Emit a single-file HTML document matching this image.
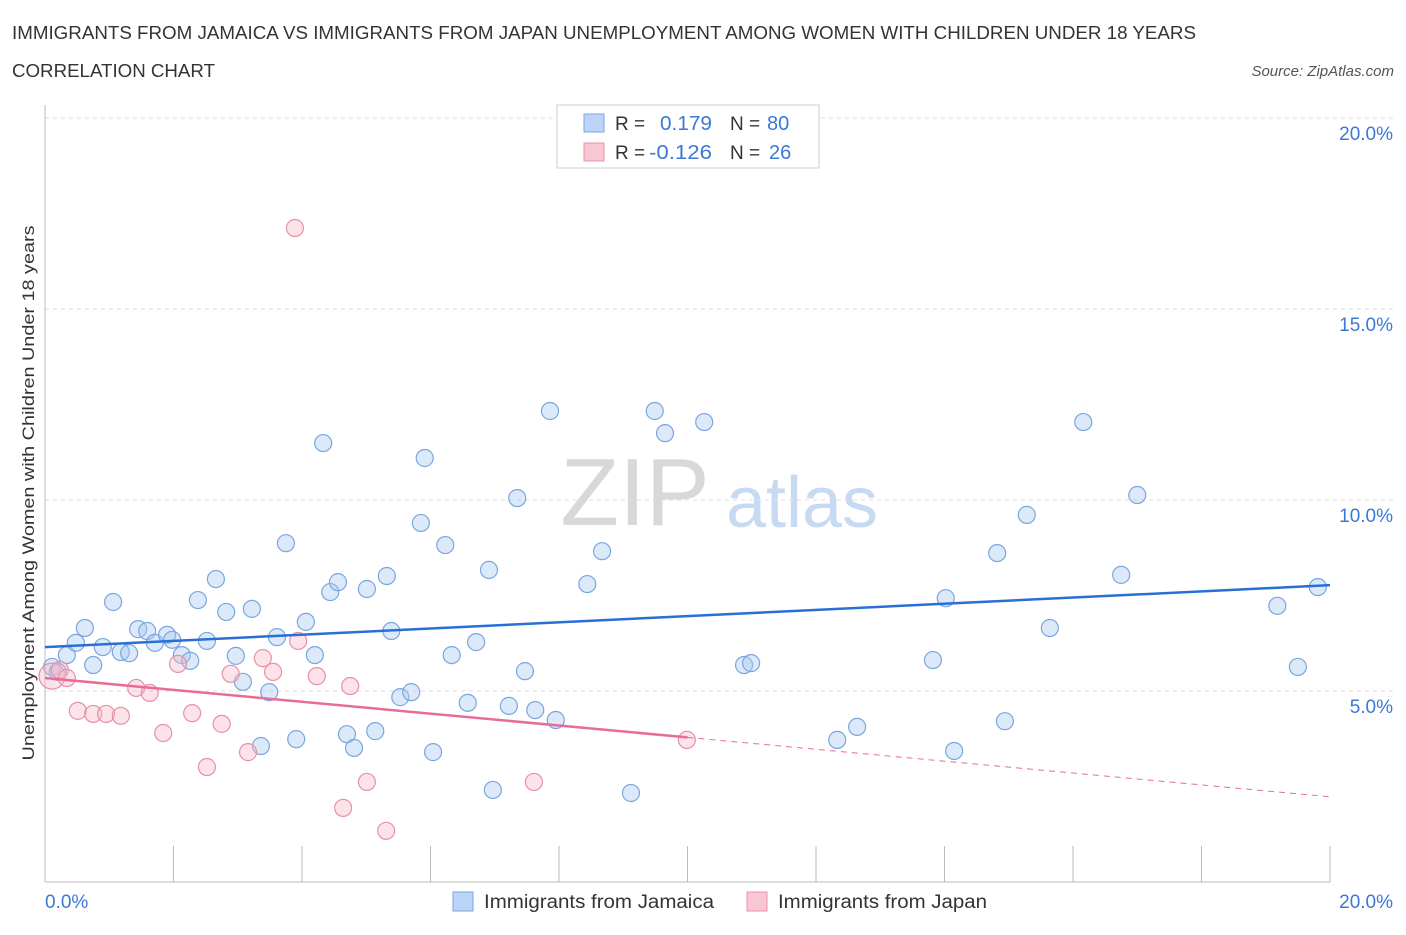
<!DOCTYPE html>
<html><head><meta charset="utf-8"><style>
body{margin:0;background:#fff;font-family:"Liberation Sans",sans-serif;}
svg text{font-family:"Liberation Sans",sans-serif;}
</style></head><body>
<svg id="chart" width="1406" height="930" xmlns="http://www.w3.org/2000/svg">
<text x="12" y="39" font-size="18" fill="#333" textLength="1184" lengthAdjust="spacingAndGlyphs">IMMIGRANTS FROM JAMAICA VS IMMIGRANTS FROM JAPAN UNEMPLOYMENT AMONG WOMEN WITH CHILDREN UNDER 18 YEARS</text>
<text x="12" y="77" font-size="18" fill="#333" textLength="203" lengthAdjust="spacingAndGlyphs">CORRELATION CHART</text>
<text x="1394" y="76" font-size="15" fill="#555" font-style="italic" text-anchor="end">Source: ZipAtlas.com</text>
<g>
<text x="635" y="525" font-size="96" fill="#d8d8d8" font-family="Liberation Serif,serif" text-anchor="middle">ZIP</text>
<text x="802" y="527" font-size="72" fill="#c8daf2" text-anchor="middle">atlas</text>
</g>
<g id="grid"></g>
<g id="axes"></g>
<g id="marks"></g>
<text transform="translate(34,493) rotate(-90)" font-size="17" fill="#333" text-anchor="middle" textLength="535" lengthAdjust="spacingAndGlyphs">Unemployment Among Women with Children Under 18 years</text>
<g>
<rect x="557" y="105" width="262" height="63" fill="#fff" stroke="#ccc"/>
<rect x="584" y="114" width="20" height="18" fill="#bcd4f6" stroke="#7aa6e0"/>
<rect x="584" y="143" width="20" height="18" fill="#f9c6d4" stroke="#e890a8"/>
<text x="615" y="130" font-size="19" fill="#333">R =</text>
<text x="660" y="130" font-size="20" fill="#3b78d8" textLength="52" lengthAdjust="spacingAndGlyphs">0.179</text>
<text x="730" y="130" font-size="19" fill="#333">N =</text>
<text x="767" y="130" font-size="20" fill="#3b78d8">80</text>
<text x="615" y="159" font-size="19" fill="#333">R =</text>
<text x="649" y="159" font-size="20" fill="#3b78d8" textLength="63" lengthAdjust="spacingAndGlyphs">-0.126</text>
<text x="730" y="159" font-size="19" fill="#333">N =</text>
<text x="769" y="159" font-size="20" fill="#3b78d8">26</text>
</g>
<g>
<rect x="453" y="892" width="20" height="19" fill="#bcd4f6" stroke="#7aa6e0"/>
<text x="484" y="908" font-size="19" fill="#333" textLength="230" lengthAdjust="spacingAndGlyphs">Immigrants from Jamaica</text>
<rect x="747" y="892" width="20" height="19" fill="#f9c6d4" stroke="#e890a8"/>
<text x="778" y="908" font-size="19" fill="#333" textLength="209" lengthAdjust="spacingAndGlyphs">Immigrants from Japan</text>
</g>
</svg>
<script>
const blueX=[0.11,0.20,0.34,0.48,0.62,0.75,0.90,1.06,1.18,1.31,1.45,1.59,1.71,1.90,1.98,2.13,2.26,2.38,2.52,2.66,2.82,2.97,3.08,3.22,3.36,3.49,3.61,3.75,3.91,4.06,4.20,4.33,4.44,4.56,4.70,4.81,5.01,5.14,5.32,5.39,5.53,5.70,5.85,5.91,6.04,6.23,6.33,6.58,6.71,6.91,6.97,7.22,7.35,7.47,7.63,7.86,7.95,8.44,8.67,9.12,9.49,9.65,10.26,10.88,10.99,12.33,12.64,13.82,14.02,14.15,14.82,14.94,15.28,15.64,16.16,16.75,17.00,19.18,19.50,19.81];
const blueY=[5.63,5.50,5.94,6.26,6.65,5.68,6.15,7.33,6.02,5.99,6.62,6.57,6.26,6.47,6.34,5.94,5.79,7.38,6.31,7.93,7.07,5.92,5.24,7.15,3.56,4.97,6.41,8.87,3.74,6.81,5.94,11.49,7.59,7.85,3.87,3.51,7.67,3.95,8.01,6.57,4.84,4.97,9.40,11.10,3.40,8.82,5.94,4.69,6.28,8.17,2.41,4.61,10.05,5.52,4.50,12.33,4.24,7.80,8.66,2.33,12.33,11.75,12.04,5.68,5.73,3.72,4.06,5.81,7.43,3.43,8.61,4.21,9.61,6.65,12.04,8.04,10.13,7.23,5.63,7.72];
const pinkX=[0.11,0.23,0.34,0.51,0.75,0.95,1.18,1.42,1.63,1.84,2.07,2.29,2.52,2.75,2.89,3.16,3.39,3.55,3.89,3.94,4.23,4.64,4.75,5.01,5.31,7.61,9.99];
const pinkY=[5.39,5.55,5.34,4.48,4.40,4.40,4.35,5.08,4.95,3.90,5.71,4.42,3.01,4.14,5.45,3.40,5.86,5.50,17.12,6.31,5.39,1.94,5.13,2.62,1.34,2.62,3.72];
const blueTrend=[6.15,7.77];
const pinkTrend=[5.34,2.23];
const pinkSolidEnd=10;
const yTicks=[5,10,15,20];
const xTickLabels=["0.0%","20.0%"];

const X0=45,X1=1330,Y0=882,YS=38.2;
const sx=v=>X0+(X1-X0)*v/20;
const sy=v=>Y0-v*YS;
const NS="http://www.w3.org/2000/svg";
function mk(tag,attrs,parent){const e=document.createElementNS(NS,tag);for(const k in attrs)e.setAttribute(k,attrs[k]);parent.appendChild(e);return e;}
const grid=document.getElementById('grid'),axes=document.getElementById('axes'),marks=document.getElementById('marks');
yTicks.forEach(t=>{
 const l=mk('line',{x1:X0,x2:X1+65,y1:sy(t),y2:sy(t),stroke:'#ddd','stroke-dasharray':'4,4'},grid);
 
 
 const tx=mk('text',{x:1393,y:sy(t)+22,'font-size':19,fill:'#3b78d8','text-anchor':'end'},axes);
 tx.textContent=t.toFixed(1)+'%';
 
 
});
const ya=mk('line',{x1:X0,x2:X0,y1:105,y2:Y0,stroke:'#bbb'},axes);


const xa=mk('line',{x1:X0,x2:X1,y1:Y0,y2:Y0,stroke:'#bbb'},axes);


for(let i=0;i<=10;i++){
 const t=mk('line',{x1:sx(i*2),x2:sx(i*2),y1:Y0-36,y2:Y0,stroke:'#bbb'},axes);
 
 
}
[[0,'start',45],[20,'end',1393]].forEach((p,i)=>{
 const tx=mk('text',{x:p[2],y:908,'font-size':19,fill:'#3b78d8','text-anchor':p[1]},axes);
 tx.textContent=xTickLabels[i];
 
 
});
blueX.forEach((x,i)=>{
 const c=mk('circle',{cx:sx(x),cy:sy(blueY[i]),r:8.5,fill:'rgba(168,200,240,0.4)',stroke:'#7aa6e0','stroke-width':1.2},marks);
 
 
});
pinkX.forEach((x,i)=>{
 const c=mk('circle',{cx:sx(x),cy:sy(pinkY[i]),r:i==0?13:8.5,fill:'rgba(245,184,200,0.4)',stroke:'#e890a8','stroke-width':1.2},marks);
 
 
});
const bl=mk('line',{x1:sx(0),y1:sy(blueTrend[0]),x2:sx(20),y2:sy(blueTrend[1]),stroke:'#2a6fd6','stroke-width':2.5},marks);


const pm=pinkTrend[0]+(pinkTrend[1]-pinkTrend[0])*pinkSolidEnd/20;
const pl=mk('line',{x1:sx(0),y1:sy(pinkTrend[0]),x2:sx(pinkSolidEnd),y2:sy(pm),stroke:'#e86d96','stroke-width':2.5},marks);


const pd=mk('line',{x1:sx(pinkSolidEnd),y1:sy(pm),x2:sx(20),y2:sy(pinkTrend[1]),stroke:'#e86d96','stroke-width':1,'stroke-dasharray':'6,5'},marks);


</script>
</body></html>
